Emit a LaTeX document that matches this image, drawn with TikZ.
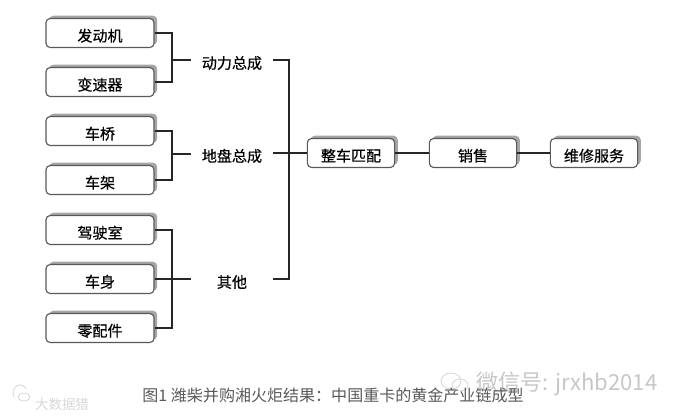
\documentclass[tikz,border=0pt]{standalone}
\usepackage{fontspec}
\setmainfont{Noto Sans CJK SC}
\newfontfamily\heavyfont[FakeBold=0.5]{Noto Sans CJK SC}
\usepackage{xcolor}
\usetikzlibrary{shadows}

\begin{document}
\begin{tikzpicture}[
      x=0.025cm, y=-0.025cm,
      font=\fontsize{10.7pt}{12pt}\selectfont\heavyfont,
      part/.style={draw=black!65, thick, rounded corners=3pt, fill=white,
                   align=center, inner sep=0pt,
                   minimum height=0.725cm, text height=12pt, text depth=0pt,
                   drop shadow={shadow xshift=0.08cm, shadow yshift=0.07cm,
                                fill=black!35, opacity=1}},
      comp/.style={part, minimum width=2.7cm},
      stage/.style={part, minimum width=2.18cm},
      group/.style={minimum width=2.025cm, inner sep=0pt, text height=9pt},
      wire/.style={black!85, line width=0.8pt},
      note/.style={inner sep=0pt, text=black!65},
      stamp/.style={inner sep=0pt, text=black!22},
      stampline/.style={black!16, line width=0.6pt},
    ]
    \useasboundingbox (0,0) rectangle (678,417);

    % --- parts on the left ---
    \node[comp] (engine)  at (100,  33) {发动机};
    \node[comp] (gearbox) at (100,  82) {变速器};
    \node[comp] (axle)    at (100, 131) {车桥};
    \node[comp] (frame)   at (100, 180) {车架};
    \node[comp] (cab)     at (100, 230) {驾驶室};
    \node[comp] (body)    at (100, 279) {车身};
    \node[comp] (spares)  at (100, 328) {零配件};

    % --- assemblies ---
    \node[group] (power)   at (232,  63) {动力总成};
    \node[group] (chassis) at (232, 156) {地盘总成};
    \node[group] (other)   at (232, 282) {其他};

    % --- chain on the right ---
    \node[stage] (match)   at (351, 153) {整车匹配};
    \node[stage] (sale)    at (473, 153) {销售};
    \node[stage] (service) at (594, 153) {维修服务};

    \coordinate (powerjoin)   at (172,  60);
    \coordinate (chassisjoin) at (172, 154);
    \coordinate (otherjoin)   at (172, 279);
    \coordinate (trunk)       at (289, 153);

    % --- parts into assemblies ---
    \draw[wire] (engine.east)  -| (powerjoin);
    \draw[wire] (gearbox.east) -| (powerjoin);
    \draw[wire] (powerjoin)    -- (power.west |- powerjoin);
    \draw[wire] (axle.east)    -| (chassisjoin);
    \draw[wire] (frame.east)   -| (chassisjoin);
    \draw[wire] (chassisjoin)  -- (chassis.west |- chassisjoin);
    \draw[wire] (cab.east)     -| (otherjoin);
    \draw[wire] (spares.east)  -| (otherjoin);
    \draw[wire] (body.east)    -- (other.west |- body);

    % --- assemblies into the chain ---
    \draw[wire] (power.east |- powerjoin) -| (trunk);
    \draw[wire] (other.east |- otherjoin) -| (trunk);
    \draw[wire] (chassis.east |- trunk) -- (match.west);
    \draw[wire] (match.east) -- (sale.west);
    \draw[wire] (sale.east)  -- (service.west);

    % --- caption and stamps ---
    \draw[stampline] (451, 381) ellipse (10 and 8);
    \draw[stampline] (460, 385) ellipse (8 and 6);
    \node[stamp, font=\fontsize{15.7pt}{17pt}\selectfont] (wechat) at (567, 384)
         {微信号: jrxhb2014};
    \node[note, font=\fontsize{11.4pt}{13pt}\selectfont] (caption) at (333, 395)
         {图1 潍柴并购湘火炬结果：中国重卡的黄金产业链成型};
    \draw[stampline] (14, 397) arc (150:330:7 and 8);
    \draw[stampline] (24, 397) ellipse (6 and 4);
    \node[stamp, text=black!16, font=\fontsize{9.6pt}{11pt}\selectfont] (source) at (62, 404)
         {大数据猎};
  \end{tikzpicture}
\end{document}
